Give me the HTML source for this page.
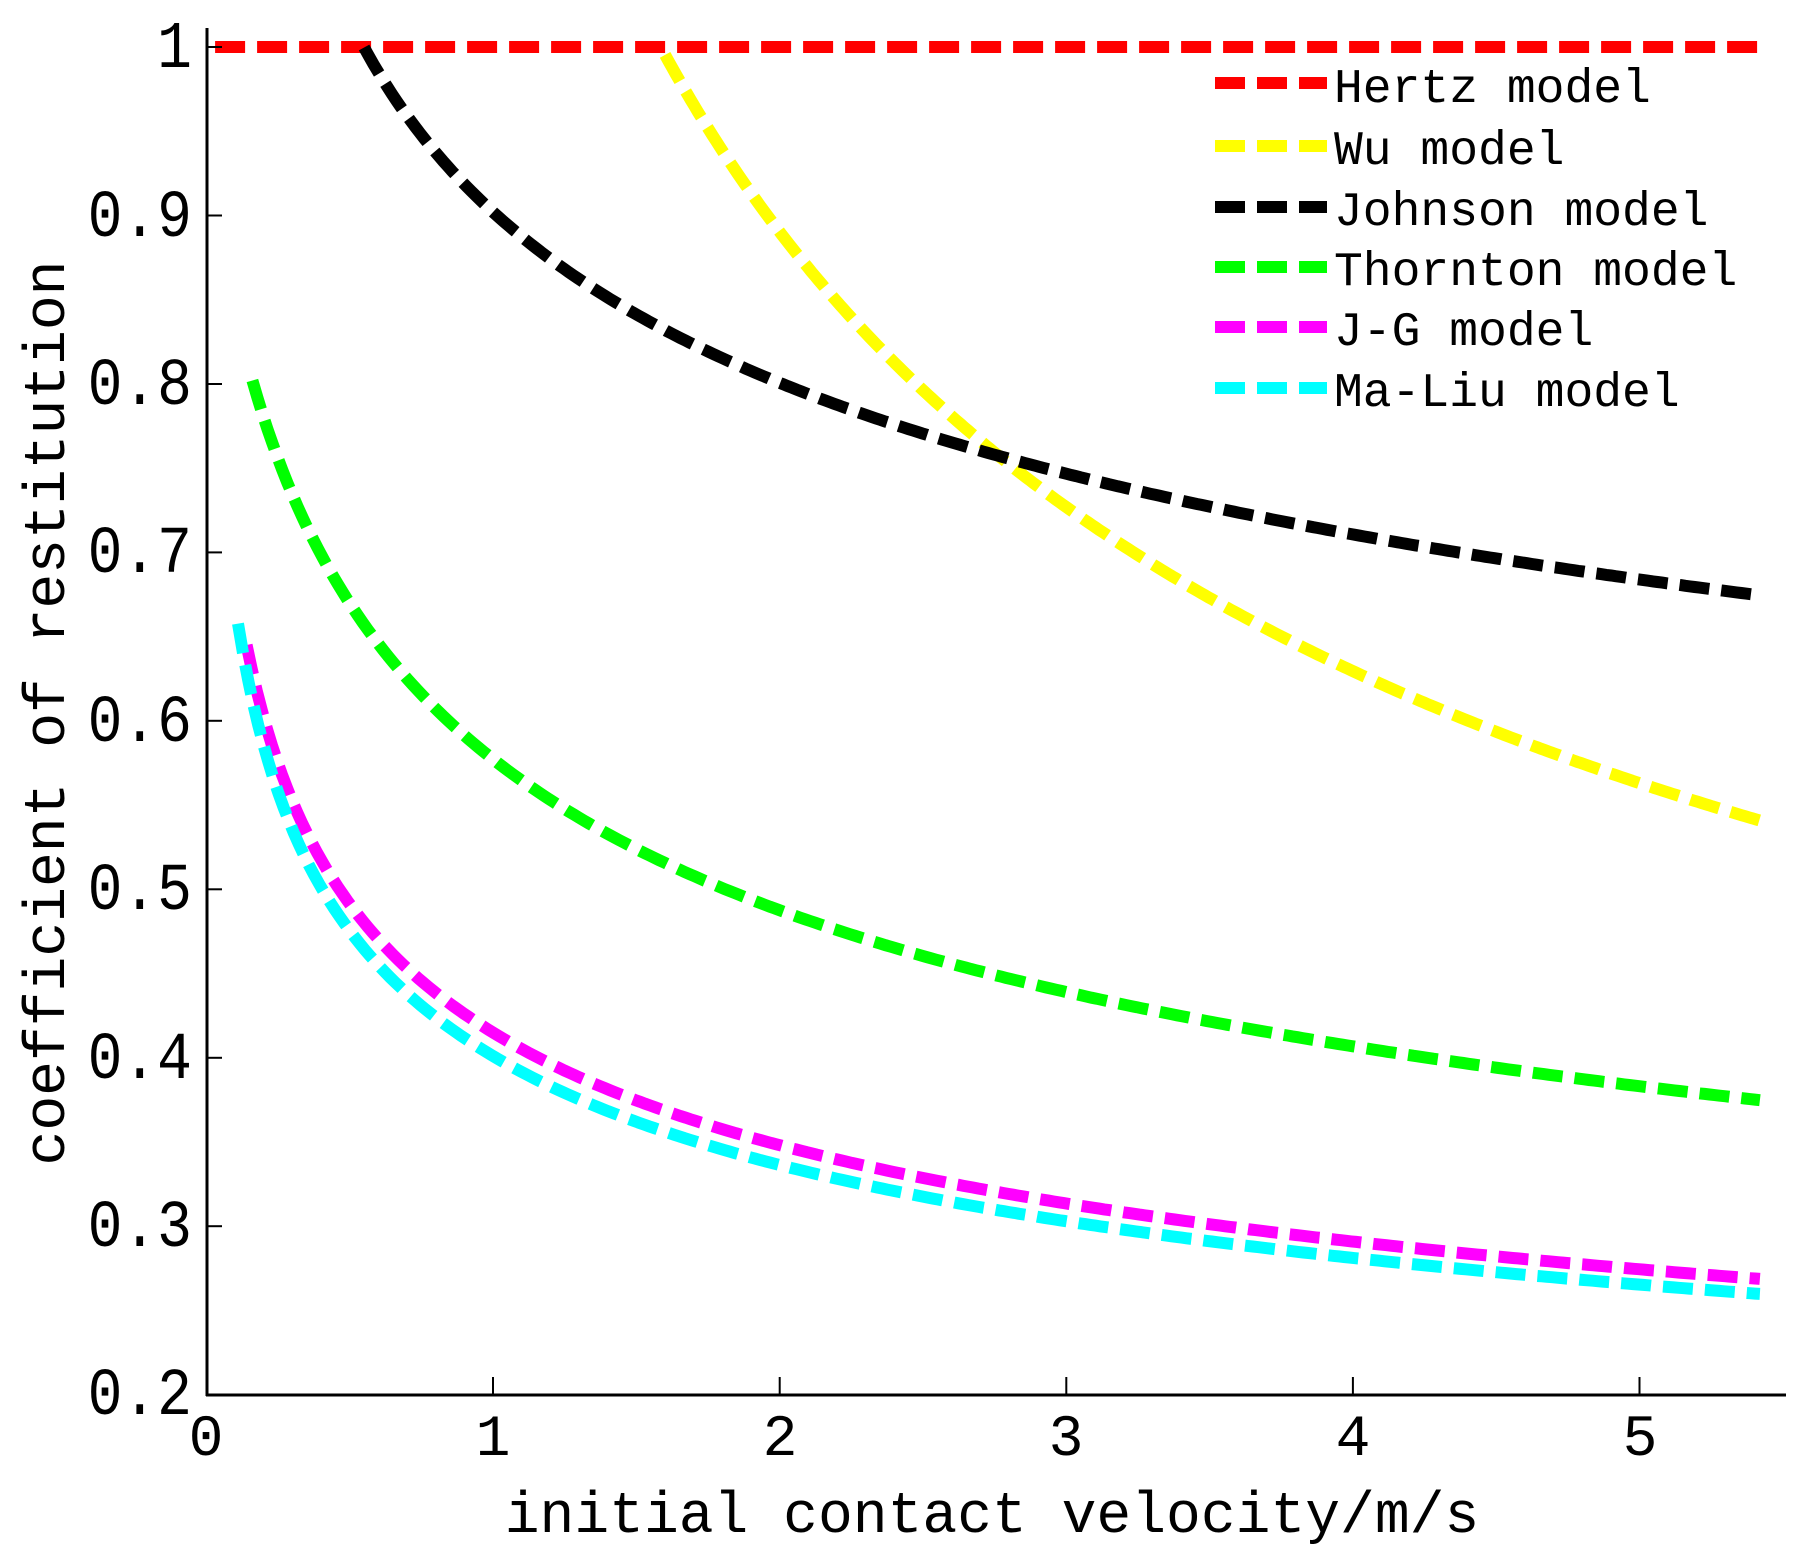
<!DOCTYPE html>
<html><head><meta charset="utf-8"><style>
html,body{margin:0;padding:0;background:#fff;}
svg{display:block;}
text{font-family:"Liberation Mono",monospace;fill:#000;}
</style></head><body>
<svg id="s" width="1811" height="1555" viewBox="0 0 1811 1555" xmlns="http://www.w3.org/2000/svg">
<rect width="1811" height="1555" fill="#fff"/>
<g id="curves" fill="none" stroke-width="12" stroke-dasharray="30 12"></g>
<!-- axes -->
<line x1="207" y1="28" x2="207" y2="1396" stroke="#000" stroke-width="3"/>
<line x1="206" y1="1395" x2="1786" y2="1395" stroke="#000" stroke-width="3"/>
<g stroke="#000" stroke-width="2">
<line x1="207" y1="47" x2="222" y2="47"/>
<line x1="207" y1="215.5" x2="222" y2="215.5"/>
<line x1="207" y1="384" x2="222" y2="384"/>
<line x1="207" y1="552.4" x2="222" y2="552.4"/>
<line x1="207" y1="720.8" x2="222" y2="720.8"/>
<line x1="207" y1="889.3" x2="222" y2="889.3"/>
<line x1="207" y1="1057.8" x2="222" y2="1057.8"/>
<line x1="207" y1="1226.2" x2="222" y2="1226.2"/>
<line x1="493" y1="1395" x2="493" y2="1377"/>
<line x1="779.7" y1="1395" x2="779.7" y2="1377"/>
<line x1="1066.3" y1="1395" x2="1066.3" y2="1377"/>
<line x1="1352.9" y1="1395" x2="1352.9" y2="1377"/>
<line x1="1639.5" y1="1395" x2="1639.5" y2="1377"/>
</g>
<g font-size="58" text-anchor="end">
<text x="192" y="67" transform="translate(0,67) scale(1,1.15) translate(0,-67)">1</text>
<text x="192" y="236" transform="translate(0,236) scale(1,1.15) translate(0,-236)">0.9</text>
<text x="192" y="404" transform="translate(0,404) scale(1,1.15) translate(0,-404)">0.8</text>
<text x="192" y="572" transform="translate(0,572) scale(1,1.15) translate(0,-572)">0.7</text>
<text x="192" y="741" transform="translate(0,741) scale(1,1.15) translate(0,-741)">0.6</text>
<text x="192" y="909" transform="translate(0,909) scale(1,1.15) translate(0,-909)">0.5</text>
<text x="192" y="1078" transform="translate(0,1078) scale(1,1.15) translate(0,-1078)">0.4</text>
<text x="192" y="1246" transform="translate(0,1246) scale(1,1.15) translate(0,-1246)">0.3</text>
<text x="192" y="1414" transform="translate(0,1414) scale(1,1.15) translate(0,-1414)">0.2</text>
</g>
<g font-size="58" text-anchor="middle">
<text x="206" y="1455">0</text>
<text x="493" y="1455">1</text>
<text x="780" y="1455">2</text>
<text x="1066" y="1455">3</text>
<text x="1353" y="1455">4</text>
<text x="1640" y="1455">5</text>
</g>
<text x="992" y="1532" font-size="58" text-anchor="middle">initial contact velocity/m/s</text>
<text x="0" y="0" font-size="58" text-anchor="middle" transform="translate(64,713) rotate(-90)">coefficient of restitution</text>
<!-- legend -->
<g stroke-width="12" stroke-dasharray="30 12">
<line x1="1215" y1="83" x2="1327" y2="83" stroke="#ff0000"/>
<line x1="1215" y1="146" x2="1327" y2="146" stroke="#ffff00"/>
<line x1="1215" y1="207" x2="1327" y2="207" stroke="#000000"/>
<line x1="1215" y1="267" x2="1327" y2="267" stroke="#00ff00"/>
<line x1="1215" y1="327" x2="1327" y2="327" stroke="#ff00ff"/>
<line x1="1215" y1="388" x2="1327" y2="388" stroke="#00ffff"/>
</g>
<g font-size="48">
<text x="1334" y="102">Hertz model</text>
<text x="1334" y="164">Wu model</text>
<text x="1334" y="225">Johnson model</text>
<text x="1334" y="285">Thornton model</text>
<text x="1334" y="345">J-G model</text>
<text x="1334" y="406">Ma-Liu model</text>
</g>
</svg>
<script>
(function(){
var X=function(x){return 206.5+286.6*x;}, Y=function(y){return 47+(1-y)*1684.6;};
var g=document.getElementById('curves');
function add(pts,col){
  var d=pts.map(function(p,i){return (i?'L':'M')+X(p[0]).toFixed(1)+' '+Y(p[1]).toFixed(1);}).join(' ');
  var p=document.createElementNS('http://www.w3.org/2000/svg','path');
  p.setAttribute('d',d);p.setAttribute('stroke',col);g.appendChild(p);
}
function fn(f,a,b){var r=[];for(var i=0;i<=300;i++){var x=a+(b-a)*i/300;r.push([x,f(x)]);}return r;}
add([[0.03,1],[5.45,1]],'#ff0000');
add(fn(function(x){return Math.min(1,1.259/Math.sqrt(x));},1.6,5.42),'#ffff00');
add(fn(function(x){return 0.902*Math.pow(x,-0.172);},0.55,5.42),'#000000');
add(fn(function(x){return 0.6105*Math.pow(x+0.22,-0.282);},0.16,5.42),'#00ff00');
add(fn(function(x){return 0.4214*Math.pow(x+0.06,-0.2645);},0.14,5.42),'#ff00ff');
add(fn(function(x){return 0.4062*Math.pow(x+0.05,-0.263);},0.11,5.42),'#00ffff');
})();
</script>
</body></html>
